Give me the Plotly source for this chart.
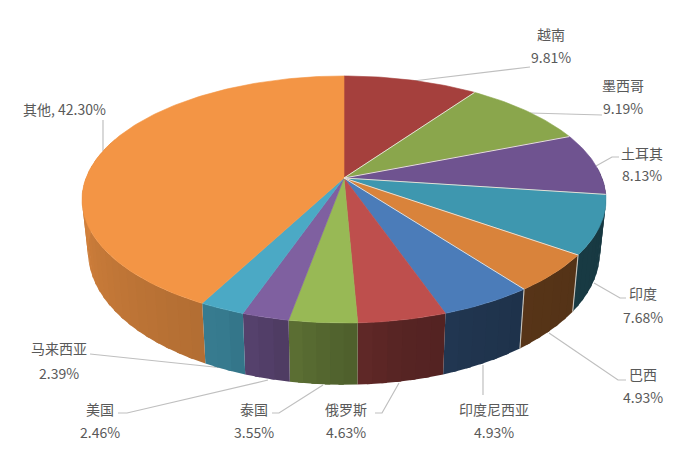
import numpy as np
import plotly.graph_objects as go

# Data
categories = ["越南", "墨西哥", "土耳其", "印度", "巴西", "印度尼西亚", "俄罗斯", "泰国", "美国", "马来西亚", "其他"]
shares = [9.81, 9.19, 8.13, 7.68, 4.93, 4.93, 4.63, 3.55, 2.46, 2.39, 42.30]
share_labels = ["9.81%", "9.19%", "8.13%", "7.68%", "4.93%", "4.93%", "4.63%", "3.55%", "2.46%", "2.39%", "42.30%"]

# Styles
top_colors = ["#A5403D", "#8AA64C", "#6F5390", "#3E97AF", "#D9833B", "#4B7CB9",
              "#BE4F4D", "#98B955", "#7F60A0", "#4BA9C5", "#F39545"]
light_edges = [0, 1, 2, 3, 4]      # slice boundaries with a pale divider on the top face
side_light_edges = [4, 5]          # ... and on the wall
TEXT = "#595959"
LEADER = "#BFBFBF"
FONT = "Noto Sans CJK SC"

# Layout: perspective disc, in page pixels
CX, CY = 344.0, 178.0
RX = 258.0
PERSP = 0.174
TILT = 88.8
WALL = 51.0
BOTTOM_SCALE = 0.977
SHADE_ANGLES = [90, 143, 170, 185, 195, 203, 215, 270, 360]
SHADE_FACTORS = [0.36, 0.40, 0.46, 0.56, 0.65, 0.72, 0.75, 0.88, 0.88]

# Label anchors: (x, first line y, second line y or None)
label_pos = [(551, 34, 57), (623, 85, 108), (642, 153, 175), (643, 293, 317), (643, 374, 397),
             (494, 409, 432), (346, 409, 432), (254, 409, 432), (100, 409, 432), (59, 348, 373),
             (64, 109, None)]
leaders = [
    [(413, 81), (530, 67)],
    [(530, 113), (602, 115)],
    [(596, 166), (612, 157), (619, 157)],
    [(594, 283), (620, 298), (626, 298)],
    [(549, 333), (618, 380), (626, 380)],
    [(483, 365), (483, 395)],
    [(399, 383), (382, 413), (375, 413)],
    [(323, 385), (279, 413), (272, 413)],
    [(268, 380), (127, 413), (118, 413)],
    [(233, 369), (100, 355), (90, 354)],
    [(103, 151), (103, 120)],
]


def top_xy(deg):
    t = np.radians(np.asarray(deg, dtype=float))
    u, v = np.sin(t), np.cos(t)
    d = 1 + PERSP * v
    return CX + RX * u / d, (CY - TILT * v) / d


def bottom_xy(deg):
    t = np.radians(np.asarray(deg, dtype=float))
    u, v = np.sin(t), np.cos(t)
    d = 1 + PERSP * v
    return CX + BOTTOM_SCALE * RX * u / d, (CY - TILT * v + WALL) / d


def scaled(hex_color, f):
    r, g, b = (int(hex_color[i:i + 2], 16) for i in (1, 3, 5))
    return f"rgb({r * f:.0f},{g * f:.0f},{b * f:.0f})"


fig = go.Figure()


def poly(x, y, color, width=0.6):
    fig.add_trace(go.Scatter(x=list(x), y=list(y), mode="lines", fill="toself", fillcolor=color,
                             line=dict(color=color, width=width), hoverinfo="skip", showlegend=False))


def line(x, y, color, width):
    fig.add_trace(go.Scatter(x=list(x), y=list(y), mode="lines", line=dict(color=color, width=width),
                             hoverinfo="skip", showlegend=False))


edges = np.concatenate([[0], np.cumsum(shares)]) / sum(shares) * 360

# Leader lines run underneath the disc, so they stop at its edge
for pts in leaders:
    line([p[0] for p in pts], [p[1] for p in pts], LEADER, 1.2)

# Wall, in thin strips so the shade can vary along it; painted from the far end of
# each slice backward, each strip overlapping the next so no seams show
for i in range(len(shares)):
    a0, a1 = edges[i], edges[i + 1]
    lo, hi = max(a0, 85.0), min(a1, 290.0)
    if hi <= lo:
        continue
    n = max(1, int(np.ceil((hi - lo) / 3)))
    steps = np.linspace(lo, hi, n + 1)
    for s0, s1 in zip(steps[:-1], steps[1:]):
        arc = np.linspace(s0, min(s1 + 1.0, hi), 6)
        tx, ty = top_xy(arc)
        bx, by = bottom_xy(arc[::-1])
        f = float(np.interp((s0 + s1) / 2, SHADE_ANGLES, SHADE_FACTORS))
        poly(np.r_[tx, bx, tx[0]], np.r_[ty, by, ty[0]], scaled(top_colors[i], f), width=0)

for k in side_light_edges:
    a = edges[k]
    tx, ty = top_xy(a)
    bx, by = bottom_xy(a)
    line([tx, bx], [ty, by], "#C9C4BC", 1.1)

# Top face
for i in range(len(shares)):
    arc = np.linspace(edges[i], edges[i + 1], max(3, int(edges[i + 1] - edges[i]) + 2))
    x, y = top_xy(arc)
    poly(np.r_[CX, x, CX], np.r_[CY, y, CY], top_colors[i])

for k in light_edges:
    x, y = top_xy(edges[k + 1])
    line([CX, x], [CY, y], "#E6DFD6", 1.0)

# Labels
annotations = []
for name, pct, (x, y1, y2) in zip(categories, share_labels, label_pos):
    if y2 is None:
        texts = [(f"{name}, {pct}", y1)]
    else:
        texts = [(name, y1), (pct, y2)]
    for t, y in texts:
        annotations.append(dict(x=x, y=y, text=t, showarrow=False, xanchor="center", yanchor="middle",
                                font=dict(family=FONT, size=14, color=TEXT)))

fig.update_layout(
    width=687, height=464, margin=dict(l=0, r=0, t=0, b=0),
    paper_bgcolor="white", plot_bgcolor="white", showlegend=False, annotations=annotations,
    xaxis=dict(range=[0, 687], visible=False, fixedrange=True),
    yaxis=dict(range=[464, 0], visible=False, fixedrange=True),
)

fig.write_html("out.html", config={"displayModeBar": False},
               post_script="document.body.style.margin='0';document.documentElement.style.overflow='hidden';window.dispatchEvent(new Event('resize'));")
